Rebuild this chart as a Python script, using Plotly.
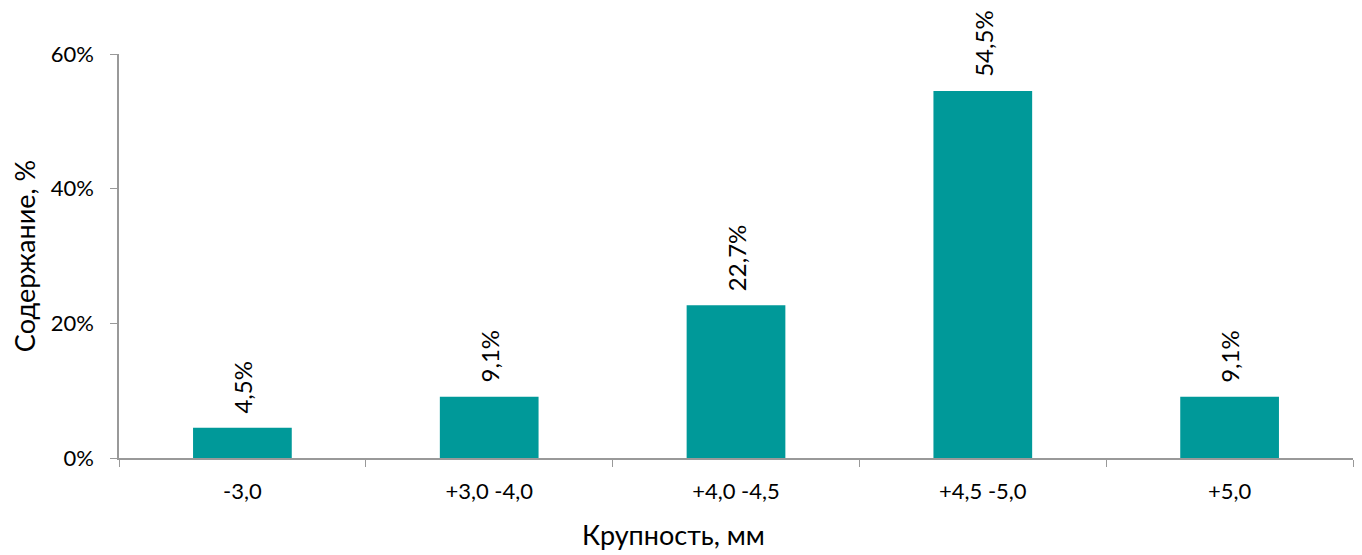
import plotly.graph_objects as go

categories = ["-3,0", "+3,0 -4,0", "+4,0 -4,5", "+4,5 -5,0", "+5,0"]
values = [4.5, 9.1, 22.7, 54.5, 9.1]
y_ticks = [0, 20, 40, 60]
y_tick_labels = ["0%", "20%", "40%", "60%"]
x_title = "Крупность, мм"
y_title = "Содержание, %"

labels = [f"{v:.1f}".replace(".", ",") + "%" for v in values]
font_family = "Lato, Open Sans, sans-serif"

fig = go.Figure()
fig.add_trace(go.Bar(
    x=categories, y=values, marker=dict(color="#009999", line=dict(width=0)),
    width=0.4, hoverinfo="skip",
))
for c, v, t in zip(categories, values, labels):
    fig.add_annotation(x=c, y=v, text=t, textangle=-90, showarrow=False,
                       yanchor="bottom", yshift=12,
                       font=dict(size=24, color="black", family=font_family))

# x-axis title (placed slightly left of centre, as in the original)
fig.add_annotation(xref="paper", yref="paper", x=0.449, y=-0.19,
                   xanchor="center", yanchor="middle", showarrow=False,
                   text=x_title, font=dict(size=27, color="black", family=font_family))

fig.update_layout(
    width=1362, height=555,
    margin=dict(l=111, r=17, t=46, b=105, autoexpand=False),
    plot_bgcolor="white", paper_bgcolor="white",
    showlegend=False,
    font=dict(family=font_family, size=22, color="black"),
)
fig.update_xaxes(
    type="category", tickson="boundaries", ticks="outside", ticklen=7,
    tickcolor="#999999", showline=True, linecolor="#999999", linewidth=1.5,
    showgrid=False, tickfont=dict(size=22), range=[-0.5, 4.5], automargin=False,
    ticklabelstandoff=13,
)
fig.update_yaxes(
    range=[0, 60], tickvals=y_ticks, ticktext=y_tick_labels, ticks="outside", ticklen=7,
    tickcolor="#999999", showline=True, linecolor="#999999", linewidth=1.5,
    showgrid=False, zeroline=False, title=dict(text=y_title, font=dict(size=27), standoff=22),
    tickfont=dict(size=22), automargin=False, ticklabelstandoff=12,
)
fig.write_html("out.html")
